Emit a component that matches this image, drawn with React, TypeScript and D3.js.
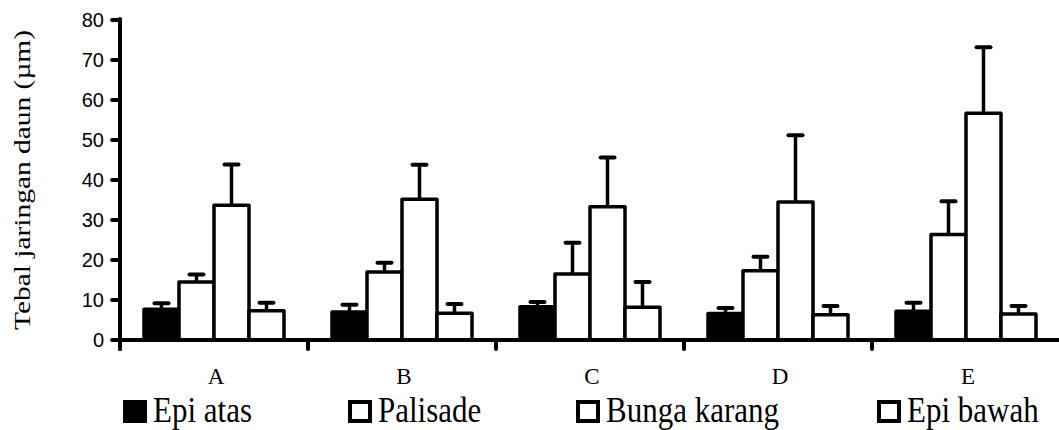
import React, { useEffect, useRef } from 'react';
import * as d3 from 'd3';

const categories = ['A', 'B', 'C', 'D', 'E'];
const seriesNames = ['Epi atas', 'Palisade', 'Bunga karang', 'Epi bawah'];
// mean values per series, in category order
const epiAtas = [7.7, 7.0, 8.3, 6.6, 7.2];
const palisade = [14.5, 17.0, 16.5, 17.3, 26.4];
const bungaKarang = [33.7, 35.2, 33.3, 34.5, 56.7];
const epiBawah = [7.3, 6.7, 8.2, 6.3, 6.5];
// top of error bar (mean + sd)
const epiAtasErr = [9.2, 8.8, 9.5, 8.0, 9.3];
const palisadeErr = [16.4, 19.3, 24.3, 20.8, 34.7];
const bungaKarangErr = [43.9, 43.8, 45.6, 51.2, 73.2];
const epiBawahErr = [9.3, 9.0, 14.5, 8.5, 8.5];
const yTicks = [0, 10, 20, 30, 40, 50, 60, 70, 80];

const SERIF = "'Liberation Serif', 'Times New Roman', Times, serif";
const SANS = "'Liberation Sans', Arial, sans-serif";

const App = () => {
  const svgRef = useRef<SVGSVGElement>(null);

  useEffect(() => {
    const svg = d3.select(svgRef.current);
    svg.selectAll('*').remove();

    const values = [epiAtas, palisade, bungaKarang, epiBawah];
    const errs = [epiAtasErr, palisadeErr, bungaKarangErr, epiBawahErr];
    const fills = ['#000', '#fff', '#fff', '#fff'];

    const x0 = d3.scaleBand().domain(categories).range([120, 1060]).padding(0);
    const x1 = d3.scaleBand().domain(seriesNames).range([24, 164]).padding(0);
    const y = d3.scaleLinear().domain([0, 80]).range([340, 20]);

    // bars
    categories.forEach((c, ci) => {
      const g = svg.append('g').attr('transform', `translate(${x0(c)},0)`);
      seriesNames.forEach((s, si) => {
        const v = values[si][ci];
        const e = errs[si][ci];
        const cx = x1(s)! + x1.bandwidth() / 2;
        g.append('line')
          .attr('x1', cx).attr('x2', cx)
          .attr('y1', y(v)).attr('y2', y(e))
          .attr('stroke', '#000').attr('stroke-width', 3.5);
        g.append('line')
          .attr('x1', cx - 7).attr('x2', cx + 7)
          .attr('y1', y(e)).attr('y2', y(e))
          .attr('stroke', '#000').attr('stroke-width', 4)
          .attr('stroke-linecap', 'round');
        g.append('rect')
          .attr('x', x1(s)!)
          .attr('y', y(v))
          .attr('width', x1.bandwidth())
          .attr('height', y(0) - y(v))
          .attr('fill', fills[si])
          .attr('stroke', '#000')
          .attr('stroke-width', 3.5)
          .attr('stroke-linejoin', 'round');
      });
    });

    // y axis
    svg.append('line')
      .attr('x1', 120).attr('x2', 120)
      .attr('y1', y(80) - 1).attr('y2', 349)
      .attr('stroke', '#000').attr('stroke-width', 4).attr('stroke-linecap', 'round');
    svg.selectAll('.ytick')
      .data(yTicks)
      .enter()
      .append('line')
      .attr('x1', 112).attr('x2', 120)
      .attr('y1', d => y(d)).attr('y2', d => y(d))
      .attr('stroke', '#000').attr('stroke-width', 4).attr('stroke-linecap', 'round');
    svg.selectAll('.ylabel')
      .data(yTicks)
      .enter()
      .append('text')
      .attr('x', 104)
      .attr('y', d => y(d))
      .attr('dy', '0.36em')
      .attr('text-anchor', 'end')
      .style('font-family', SANS)
      .style('font-size', '20px')
      .text(d => d);

    // x axis
    svg.append('line')
      .attr('x1', 120).attr('x2', 1059)
      .attr('y1', y(0)).attr('y2', y(0))
      .attr('stroke', '#000').attr('stroke-width', 4);
    svg.selectAll('.xtick')
      .data(categories)
      .enter()
      .append('line')
      .attr('x1', d => x0(d)!).attr('x2', d => x0(d)!)
      .attr('y1', y(0)).attr('y2', 349)
      .attr('stroke', '#000').attr('stroke-width', 4).attr('stroke-linecap', 'round');
    svg.selectAll('.xlabel')
      .data(categories)
      .enter()
      .append('text')
      .attr('x', d => x0(d)! + x0.bandwidth() / 2 + 2)
      .attr('y', 384)
      .attr('text-anchor', 'middle')
      .style('font-family', SERIF)
      .style('font-size', '23px')
      .text(d => d);

    // y title
    svg.append('text')
      .attr('transform', 'translate(30,180) scale(1,1.28) rotate(-90)')
      .attr('text-anchor', 'middle')
      .style('font-family', SERIF)
      .style('font-size', '23px')
      .text('Tebal jaringan daun (µm)');

    // legend
    const legendX = [123, 348, 576, 877];
    seriesNames.forEach((s, si) => {
      const lx = legendX[si];
      if (si === 0) {
        svg.append('rect')
          .attr('x', lx).attr('y', 400).attr('width', 24).attr('height', 23)
          .attr('fill', '#000');
      } else {
        svg.append('rect')
          .attr('x', lx + 2).attr('y', 402).attr('width', 20).attr('height', 19)
          .attr('fill', '#fff').attr('stroke', '#000').attr('stroke-width', 4);
      }
      svg.append('text')
        .attr('transform', `translate(${lx + 30},422) scale(1,1.15)`)
        .style('font-family', SERIF)
        .style('font-size', '31px')
        .text(s);
    });
  }, []);

  return (
    <svg ref={svgRef} width={1059} height={430} style={{ display: 'block', position: 'absolute', left: 0, top: 0, background: '#fff' }} />
  );
};

export default App;
